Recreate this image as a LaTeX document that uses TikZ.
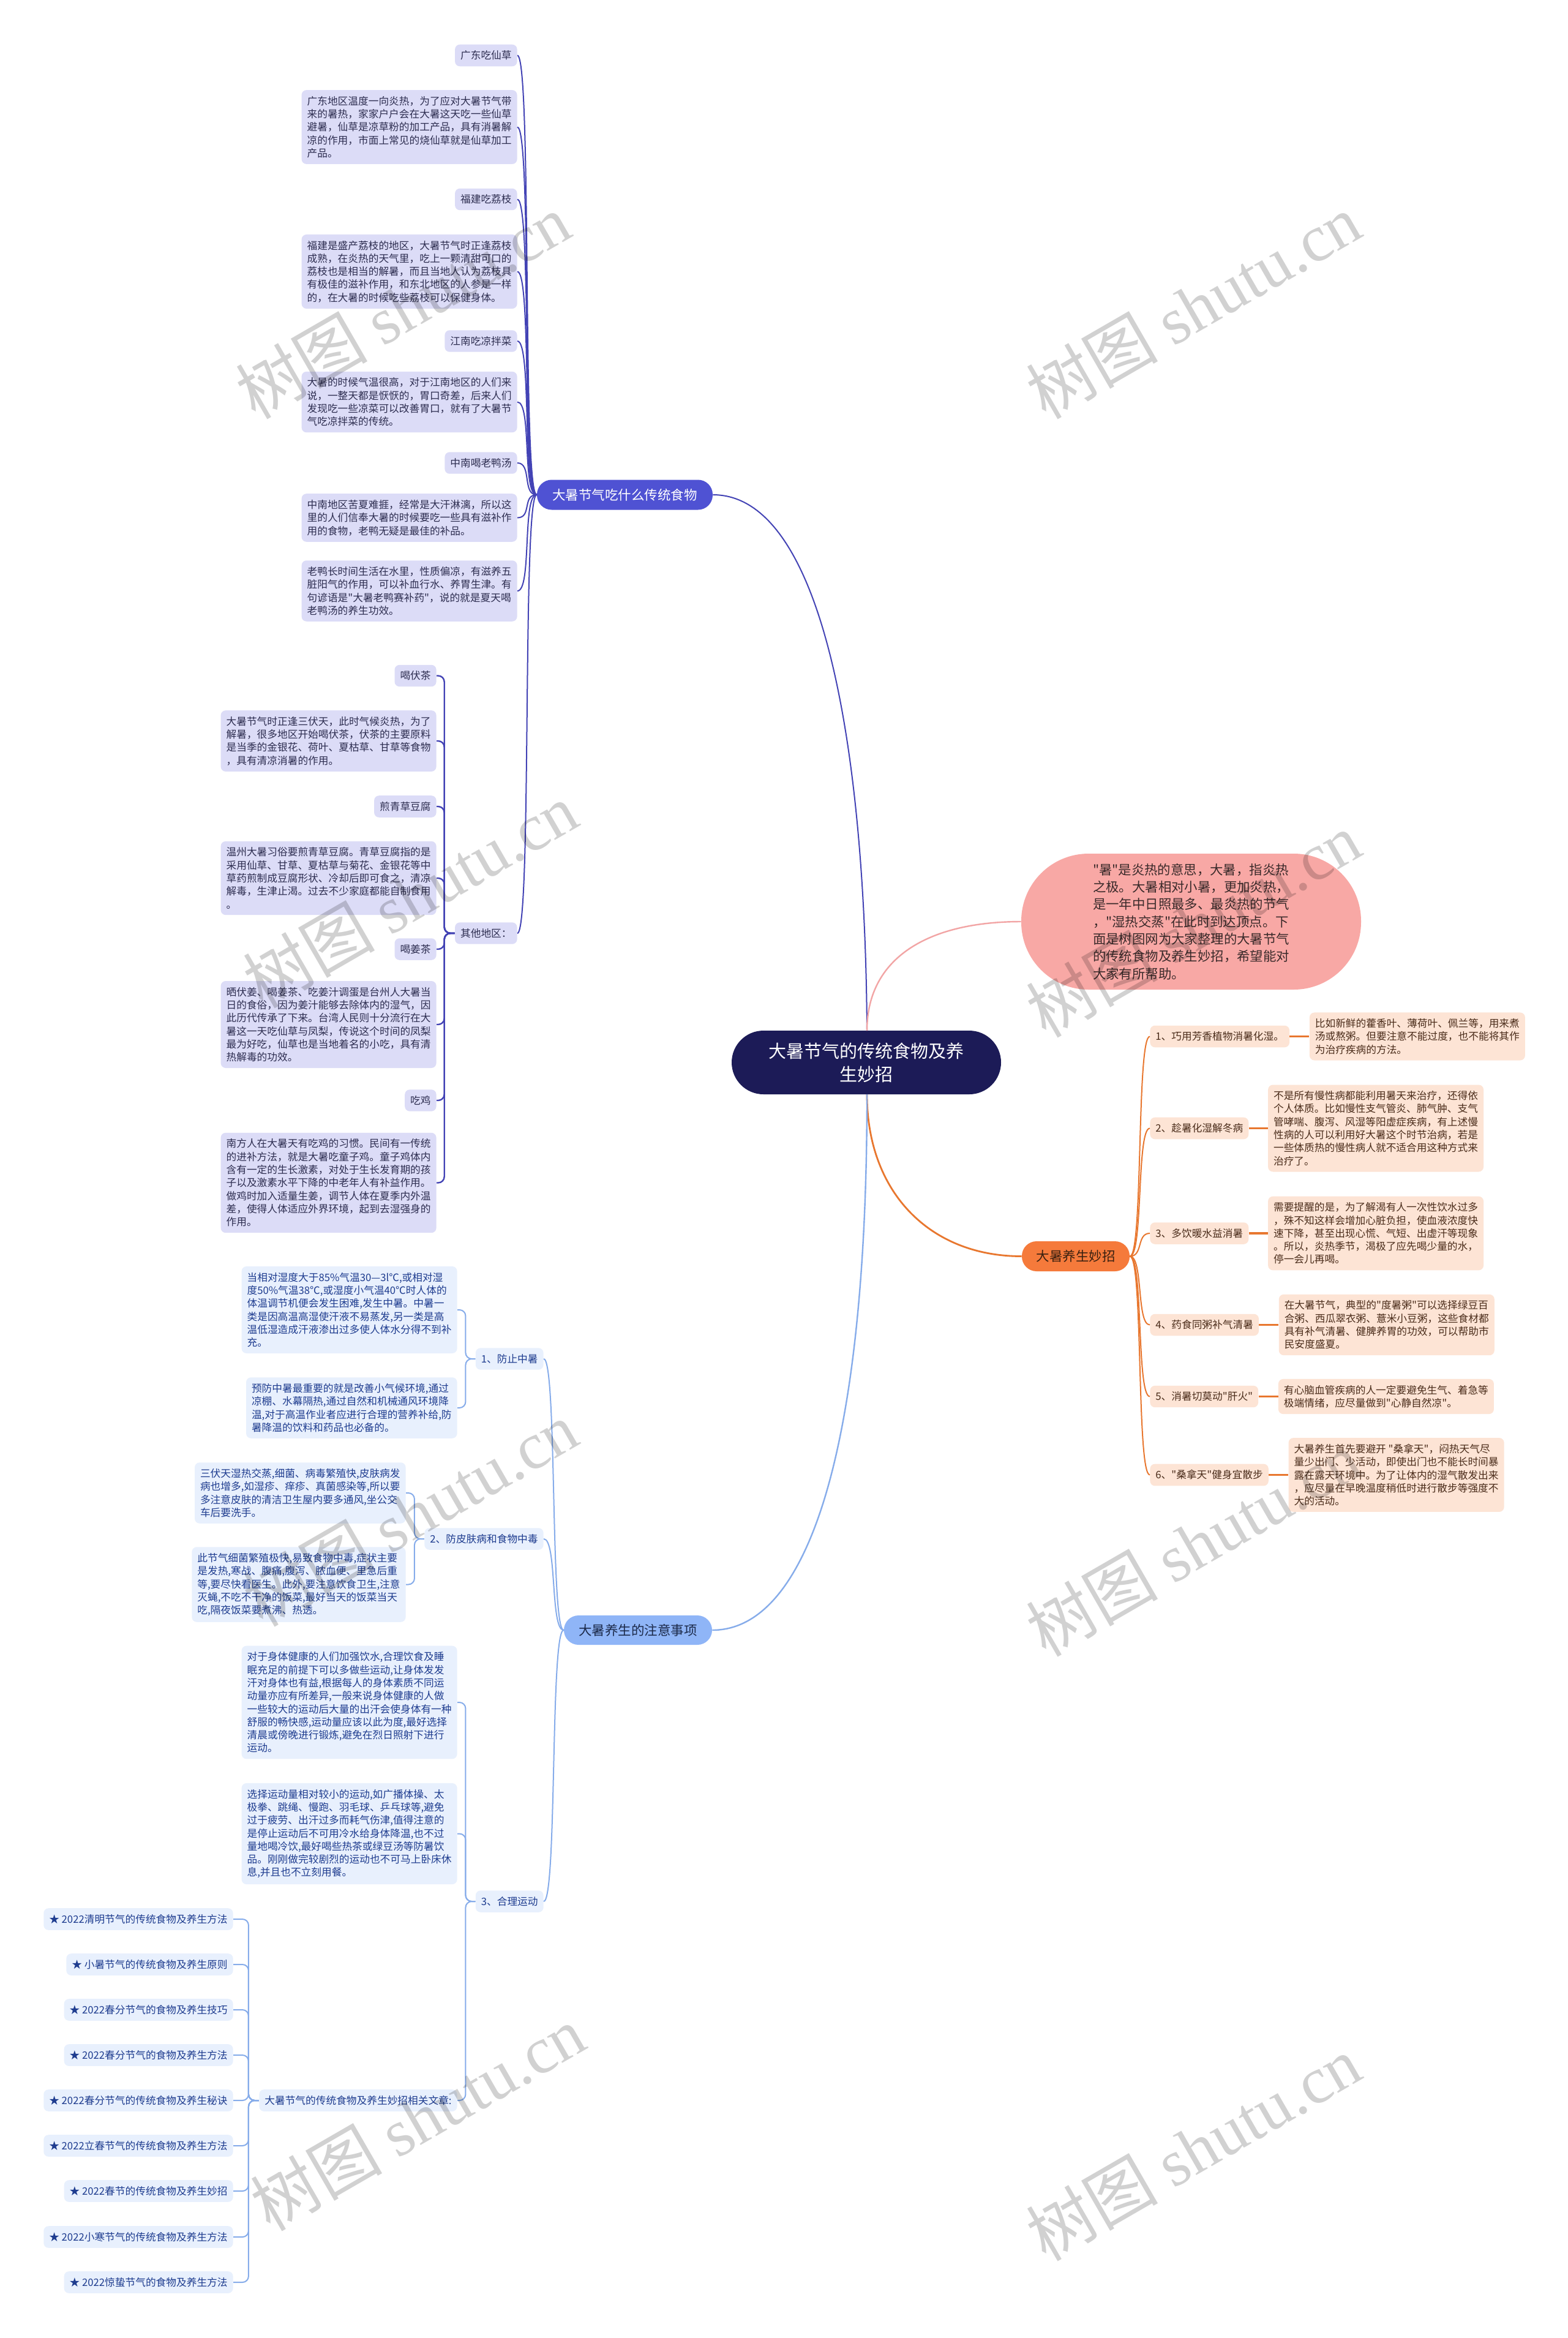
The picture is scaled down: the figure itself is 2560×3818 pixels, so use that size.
\documentclass[tikz,border=0pt]{standalone}
\usepackage{fontspec}
\setmainfont{Noto Sans CJK SC}
\newfontfamily\cjkf{Noto Sans CJK SC}
\newfontfamily\wmserif{Liberation Serif}
\usetikzlibrary{positioning,calc}
\definecolor{colLvFill}{HTML}{DCDCF7}
\definecolor{colLvText}{HTML}{2D2D50}
\definecolor{colLvLine}{HTML}{4343B5}
\definecolor{colBOne}{HTML}{4F52D3}
\definecolor{colCenter}{HTML}{1C1B57}
\definecolor{colIntro}{HTML}{F8A8A5}
\definecolor{colIntroText}{HTML}{3A2A2A}
\definecolor{colIntroLine}{HTML}{F2A5A5}
\definecolor{colMiao}{HTML}{F57A3B}
\definecolor{colMiaoText}{HTML}{3A2010}
\definecolor{colPcLine}{HTML}{E8772F}
\definecolor{colPcFill}{HTML}{FDE4D5}
\definecolor{colPcText}{HTML}{4A2C1A}
\definecolor{colZhuyi}{HTML}{8FB5F7}
\definecolor{colZhuyiText}{HTML}{1C2A4A}
\definecolor{colBuLine}{HTML}{86ACEA}
\definecolor{colBuFill}{HTML}{E8F0FD}
\definecolor{colBuText}{HTML}{1E3C8F}
\tikzset{
  basefont/.style={font=\cjkf\fontsize{8.35pt}{10.65pt}\selectfont},
  boxbase/.style={basefont, rounded corners=4pt, inner xsep=4.5pt, inner ysep=5pt, align=left},
  lvbox/.style={boxbase, fill=colLvFill, text=colLvText, anchor=east},
  pcbox/.style={boxbase, fill=colPcFill, text=colPcText, anchor=west},
  bubox/.style={boxbase, fill=colBuFill, text=colBuText, anchor=east},
  lvlink/.style={draw=colLvLine, line width=1pt},
  lvbracket/.style={draw=colLvLine, line width=1.2pt, rounded corners=5pt},
  pclink/.style={draw=colPcLine, line width=1pt},
  pcstraight/.style={draw=colPcLine, line width=1.8pt},
  bulink/.style={draw=colBuLine, line width=1pt},
  bubracket/.style={draw=colBuLine, line width=1pt, rounded corners=5pt},
  wmark/.style={font=\cjkf\fontsize{54pt}{54pt}\selectfont, rotate=30, text=black, text opacity=0.18, inner sep=0pt}
}
\begin{document}
\begin{tikzpicture}[x=0.5pt,y=-0.5pt]
\path[use as bounding box, fill=white] (0,0) rectangle (2560,3818);

% ---------- center and main branches ----------
\node[fill=colCenter, text=white, rounded corners=26pt, minimum width=220pt, minimum height=52pt,
      align=center, font=\cjkf\fontsize{14.5pt}{19pt}\selectfont] (center) at (1415,1735)
      {大暑节气的传统食物及养\\生妙招};
\node[fill=colIntro, text=colIntroText, rounded corners=55pt, minimum width=277.5pt, minimum height=111pt,
      align=left, font=\cjkf\fontsize{10.7pt}{14.15pt}\selectfont] (intro) at (1945.5,1505)
      {"暑"是炎热的意思，大暑，指炎热\\之极。大暑相对小暑，更加炎热，\\是一年中日照最多、最炎热的节气\\，"湿热交蒸"在此时到达顶点。下\\面是树图网为大家整理的大暑节气\\的传统食物及养生妙招，希望能对\\大家有所帮助。};
\node[fill=colBOne, text=white, rounded corners=12pt, minimum width=143.5pt, minimum height=24.5pt,
      font=\cjkf\fontsize{10.75pt}{12pt}\selectfont] (bone) at (1020.5,808) {大暑节气吃什么传统食物};
\node[fill=colMiao, text=colMiaoText, rounded corners=12pt, minimum width=88pt, minimum height=24.5pt,
      font=\cjkf\fontsize{10.75pt}{12pt}\selectfont] (miao) at (1757,2051.5) {大暑养生妙招};
\node[fill=colZhuyi, text=colZhuyiText, rounded corners=12pt, minimum width=121pt, minimum height=24pt,
      font=\cjkf\fontsize{10.75pt}{12pt}\selectfont] (zhuyi) at (1042,2662) {大暑养生的注意事项};

\coordinate (ctop) at (1416,1683);
\coordinate (cbot) at (1416,1787);
\draw[draw=colLvLine, line width=1pt] (bone.east) .. controls +(175,0) and +(-3,-480) .. (ctop);
\draw[draw=colIntroLine, line width=1.2pt] (ctop) .. controls +(0,-120) and +(-150,0) .. (intro.west);
\draw[draw=colPcLine, line width=1.4pt] (cbot) .. controls +(0,160) and +(-150,0) .. (miao.west);
\draw[draw=colBuLine, line width=1.2pt] (cbot) .. controls +(0,600) and +(150,0) .. (zhuyi.east);

% ---------- branch 1: traditional foods ----------
\node[lvbox] (gd) at (845,90.5) {广东吃仙草};
\node[lvbox] (gdd) at (845,207.5) {广东地区温度一向炎热，为了应对大暑节气带\\来的暑热，家家户户会在大暑这天吃一些仙草\\避暑，仙草是凉草粉的加工产品，具有消暑解\\凉的作用，市面上常见的烧仙草就是仙草加工\\产品。};
\node[lvbox] (fj) at (845,325.5) {福建吃荔枝};
\node[lvbox] (fjd) at (845,443.5) {福建是盛产荔枝的地区，大暑节气时正逢荔枝\\成熟，在炎热的天气里，吃上一颗清甜可口的\\荔枝也是相当的解暑，而且当地人认为荔枝具\\有极佳的滋补作用，和东北地区的人参是一样\\的，在大暑的时候吃些荔枝可以保健身体。};
\node[lvbox] (jn) at (845,557) {江南吃凉拌菜};
\node[lvbox] (jnd) at (845,656.5) {大暑的时候气温很高，对于江南地区的人们来\\说，一整天都是恹恹的，胃口奇差，后来人们\\发现吃一些凉菜可以改善胃口，就有了大暑节\\气吃凉拌菜的传统。};
\node[lvbox] (zn) at (845,756) {中南喝老鸭汤};
\node[lvbox] (znd) at (845,845.5) {中南地区苦夏难捱，经常是大汗淋漓，所以这\\里的人们信奉大暑的时候要吃一些具有滋补作\\用的食物，老鸭无疑是最佳的补品。};
\node[lvbox] (lyd) at (845,965) {老鸭长时间生活在水里，性质偏凉，有滋养五\\脏阳气的作用，可以补血行水、养胃生津。有\\句谚语是"大暑老鸭赛补药"，说的就是夏天喝\\老鸭汤的养生功效。};
\node[lvbox] (qt) at (845,1524) {其他地区：};

\foreach \n in {gd,gdd,fj,fjd,jn,jnd,zn,znd,lyd,qt}
  \draw[lvlink] (\n.east) .. controls +(24,0) and +(-24,0) .. (bone.west);

\node[lvbox] (hf) at (713,1103.5) {喝伏茶};
\node[lvbox] (hfd) at (713,1210) {大暑节气时正逢三伏天，此时气候炎热，为了\\解暑，很多地区开始喝伏茶，伏茶的主要原料\\是当季的金银花、荷叶、夏枯草、甘草等食物\\，具有清凉消暑的作用。};
\node[lvbox] (jq) at (713,1317) {煎青草豆腐};
\node[lvbox] (jqd) at (713,1434) {温州大暑习俗要煎青草豆腐。青草豆腐指的是\\采用仙草、甘草、夏枯草与菊花、金银花等中\\草药煎制成豆腐形状、冷却后即可食之，清凉\\解毒，生津止渴。过去不少家庭都能自制食用\\。};
\node[lvbox] (hj) at (713,1550) {喝姜茶};
\node[lvbox] (hjd) at (713,1673) {晒伏姜、喝姜茶、吃姜汁调蛋是台州人大暑当\\日的食俗，因为姜汁能够去除体内的湿气，因\\此历代传承了下来。台湾人民则十分流行在大\\暑这一天吃仙草与凤梨，传说这个时间的凤梨\\最为好吃，仙草也是当地着名的小吃，具有清\\热解毒的功效。};
\node[lvbox] (cj) at (713,1797) {吃鸡};
\node[lvbox] (cjd) at (713,1931.5) {南方人在大暑天有吃鸡的习惯。民间有一传统\\的进补方法，就是大暑吃童子鸡。童子鸡体内\\含有一定的生长激素，对处于生长发育期的孩\\子以及激素水平下降的中老年人有补益作用。\\做鸡时加入适量生姜，调节人体在夏季内外温\\差，使得人体适应外界环境，起到去湿强身的\\作用。};

\coordinate (qtj) at ($(qt.west)+(-17,0)$);
\foreach \n in {hf,hfd,jq,jqd,hj,hjd,cj,cjd}
  \draw[lvbracket] (\n.east) -| (qtj) -- (qt.west);

% ---------- branch 2: tips (right) ----------
\node[pcbox] (l1) at (1878,1692.5) {1、巧用芳香植物消暑化湿。};
\node[pcbox, right=16pt of l1] (d1) {比如新鲜的藿香叶、薄荷叶、佩兰等，用来煮\\汤或熬粥。但要注意不能过度，也不能将其作\\为治疗疾病的方法。};
\node[pcbox] (l2) at (1878,1842.5) {2、趁暑化湿解冬病};
\node[pcbox, right=15.5pt of l2] (d2) {不是所有慢性病都能利用暑天来治疗，还得依\\个人体质。比如慢性支气管炎、肺气肿、支气\\管哮喘、腹泻、风湿等阳虚症疾病，有上述慢\\性病的人可以利用好大暑这个时节治病，若是\\一些体质热的慢性病人就不适合用这种方式来\\治疗了。};
\node[pcbox] (l3) at (1878,2014) {3、多饮暖水益消暑};
\node[pcbox, right=15.5pt of l3] (d3) {需要提醒的是，为了解渴有人一次性饮水过多\\，殊不知这样会增加心脏负担，使血液浓度快\\速下降，甚至出现心慌、气短、出虚汗等现象\\。所以，炎热季节，渴极了应先喝少量的水，\\停一会儿再喝。};
\node[pcbox] (l4) at (1878,2163.5) {4、药食同粥补气清暑};
\node[pcbox, right=16pt of l4] (d4) {在大暑节气，典型的"度暑粥"可以选择绿豆百\\合粥、西瓜翠衣粥、薏米小豆粥，这些食材都\\具有补气清暑、健脾养胃的功效，可以帮助市\\民安度盛夏。};
\node[pcbox] (l5) at (1878,2280.5) {5、消暑切莫动"肝火"};
\node[pcbox, right=16pt of l5] (d5) {有心脑血管疾病的人一定要避免生气、着急等\\极端情绪，应尽量做到"心静自然凉"。};
\node[pcbox] (l6) at (1878,2408.5) {6、"桑拿天"健身宜散步};
\node[pcbox, right=16pt of l6] (d6) {大暑养生首先要避开 "桑拿天"，闷热天气尽\\量少出门、少活动，即使出门也不能长时间暴\\露在露天环境中。为了让体内的湿气散发出来\\，应尽量在早晚温度稍低时进行散步等强度不\\大的活动。};

\foreach \i in {1,...,6} {
  \draw[pclink] (miao.east) .. controls +(22,0) and +(-22,0) .. (l\i.west);
  \draw[pcstraight] (l\i.east) -- (d\i.west);
}

% ---------- branch 3: precautions (left bottom) ----------
\node[bubox] (z1) at (888,2219) {1、防止中暑};
\node[bubox] (za) at (747,2139) {当相对湿度大于85\%气温30—3l℃,或相对湿\\度50\%气温38℃,或湿度小气温40℃时人体的\\体温调节机便会发生困难,发生中暑。中暑一\\类是因高温高湿使汗液不易蒸发,另一类是高\\温低湿造成汗液渗出过多使人体水分得不到补\\充。};
\node[bubox] (zb) at (747,2299) {预防中暑最重要的就是改善小气候环境,通过\\凉棚、水幕隔热,通过自然和机械通风环境降\\温,对于高温作业者应进行合理的营养补给,防\\暑降温的饮料和药品也必备的。};
\node[bubox] (z2) at (888,2513) {2、防皮肤病和食物中毒};
\node[bubox] (zc) at (663,2438) {三伏天湿热交蒸,细菌、病毒繁殖快,皮肤病发\\病也增多,如湿疹、痒疹、真菌感染等,所以要\\多注意皮肤的清洁卫生屋内要多通风,坐公交\\车后要洗手。};
\node[bubox] (zd) at (663,2587.5) {此节气细菌繁殖极快,易致食物中毒,症状主要\\是发热,寒战、腹痛,腹泻、脓血便、里急后重\\等,要尽快看医生。此外,要注意饮食卫生,注意\\灭蝇,不吃不干净的饭菜,最好当天的饭菜当天\\吃,隔夜饭菜要煮沸、热透。};
\node[bubox] (z3) at (888,3105) {3、合理运动};
\node[bubox] (ze) at (747,2780) {对于身体健康的人们加强饮水,合理饮食及睡\\眠充足的前提下可以多做些运动,让身体发发\\汗对身体也有益,根据每人的身体素质不同运\\动量亦应有所差异,一般来说身体健康的人做\\一些较大的运动后大量的出汗会使身体有一种\\舒服的畅快感,运动量应该以此为度,最好选择\\清晨或傍晚进行锻炼,避免在烈日照射下进行\\运动。};
\node[bubox] (zf) at (747,2994.5) {选择运动量相对较小的运动,如广播体操、太\\极拳、跳绳、慢跑、羽毛球、乒乓球等,避免\\过于疲劳、出汗过多而耗气伤津,值得注意的\\是停止运动后不可用冷水给身体降温,也不过\\量地喝冷饮,最好喝些热茶或绿豆汤等防暑饮\\品。刚刚做完较剧烈的运动也不可马上卧床休\\息,并且也不立刻用餐。};
\node[bubox] (zg) at (747,3430) {大暑节气的传统食物及养生妙招相关文章:};

\node[bubox] (a1) at (381,3134) {★ 2022清明节气的传统食物及养生方法};
\node[bubox] (a2) at (381,3208) {★ 小暑节气的传统食物及养生原则};
\node[bubox] (a3) at (381,3282) {★ 2022春分节气的食物及养生技巧};
\node[bubox] (a4) at (381,3356) {★ 2022春分节气的食物及养生方法};
\node[bubox] (a5) at (381,3430) {★ 2022春分节气的传统食物及养生秘诀};
\node[bubox] (a6) at (381,3504) {★ 2022立春节气的传统食物及养生方法};
\node[bubox] (a7) at (381,3578) {★ 2022春节的传统食物及养生妙招};
\node[bubox] (a8) at (381,3653) {★ 2022小寒节气的传统食物及养生方法};
\node[bubox] (a9) at (381,3727) {★ 2022惊蛰节气的食物及养生方法};

\foreach \n in {z1,z2,z3}
  \draw[bulink] (zhuyi.west) .. controls +(-22,0) and +(22,0) .. (\n.east);

\coordinate (zj1) at ($(z1.west)+(-16,0)$);
\coordinate (zj2) at ($(z2.west)+(-16,0)$);
\coordinate (zj3) at ($(z3.west)+(-16,0)$);
\coordinate (zj4) at ($(zg.west)+(-17,0)$);
\foreach \n in {za,zb} \draw[bubracket] (\n.east) -| (zj1) -- (z1.west);
\foreach \n in {zc,zd} \draw[bubracket] (\n.east) -| (zj2) -- (z2.west);
\foreach \n in {ze,zf,zg} \draw[bubracket] (\n.east) -| (zj3) -- (z3.west);
\foreach \n in {a1,a2,a3,a4,a5,a6,a7,a8,a9} \draw[bubracket] (\n.east) -| (zj4) -- (zg.west);

% ---------- watermarks ----------
\node[wmark] (wm1) at (658,500) {树图 {\wmserif shutu.cn}};
\node[wmark] (wm2) at (1949,500) {树图 {\wmserif shutu.cn}};
\node[wmark] (wm3) at (670,1462) {树图 {\wmserif shutu.cn}};
\node[wmark] (wm4) at (1949,1510) {树图 {\wmserif shutu.cn}};
\node[wmark] (wm5) at (670,2472) {树图 {\wmserif shutu.cn}};
\node[wmark] (wm6) at (1949,2521) {树图 {\wmserif shutu.cn}};
\node[wmark] (wm7) at (682,3459) {树图 {\wmserif shutu.cn}};
\node[wmark] (wm8) at (1949,3508) {树图 {\wmserif shutu.cn}};
\end{tikzpicture}
\end{document}
